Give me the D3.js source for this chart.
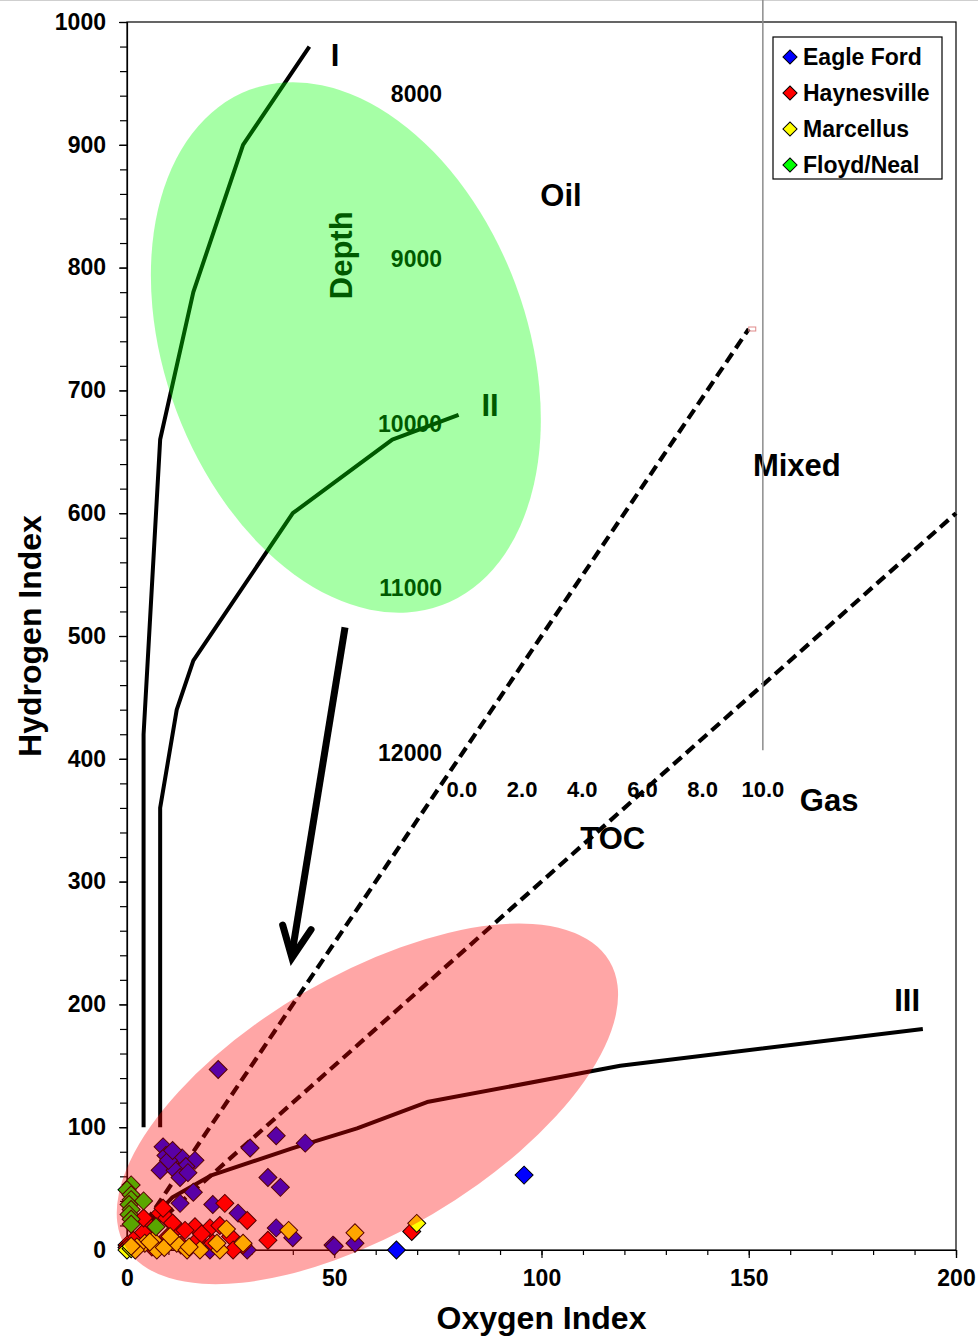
<!DOCTYPE html>
<html>
<head>
<meta charset="utf-8">
<script src="https://cdn.jsdelivr.net/npm/d3@7"></script>
<style>
  body { margin: 0; background: #fff; }
  svg text { font-family: "Liberation Sans", Arial, sans-serif; font-weight: bold; }
</style>
</head>
<body>
<div id="my_dataviz"></div>
<script>
// samples: [oxygen index, hydrogen index]
const eagleFord = [[22,147],[8.7,84],[9.4,77],[13.3,75],[16.4,73],[10.4,71],[14.2,68],[8,65],[11.6,65],
  [12.8,59],[10,73],[11,81],[14.7,63],[16,47],[12.8,38],[29.7,83],[36,93],[43,87],[34,59],[37,51],
  [20.7,37],[26.8,30],[36,18],[40,10],[49.7,4],[20,0],[29,0],[50,3],[55,5.5],[95.8,61],[65,0]];
const haynesville = [[23.6,38],[29,24],[8,30],[9.6,26],[12,18],[16.4,19],[20,18],[22.4,20],[14,16],
  [5.5,19],[3.9,14],[1.5,8],[0,4],[9.9,11],[17,8],[25,11],[28,4],[25.6,0],[20.7,5.5],[6,2.4],
  [8.7,34],[34,8],[11,22],[18,13],[4,26],[13,4],[0,2],[68.7,15]];
const marcellus = [[6.3,8],[7.2,0],[9,2],[12,5.5],[14.5,0],[17.6,0],[22.4,0],[24,17],[28,5.5],
  [4.3,5.5],[2.4,2.4],[10.4,11],[39,16],[21.7,5.5],[15,2.4],[5.5,6.5],[55,14],[69.9,21.7],
  [0,0],[1,1],[2,0],[1,3]];
const floydNeal = [[1,53],[0,49],[1,45],[1,41],[0.5,37],[1,33],[0.5,29],[1,25],[1,21],[4,40],[7,19]];

const seriesNames = ["Eagle Ford", "Haynesville", "Marcellus", "Floyd/Neal"];
const seriesData = [eagleFord, haynesville, marcellus, floydNeal];

// kerogen type curves
const typeI = [[4,100],[4,420],[8,660],[16,780],[28,900],[44,980]];
const typeII = [[8,100],[8,360],[12,440],[16,480],[40,600],[64,660],[80,680]];
const typeIII = [[4,18],[11,43],[20.5,61],[40,83],[55.5,99],[72.4,120.5],[119,150],[192,180]];
// oil / mixed / gas boundaries
const oilMixed = [[0,0],[150,750]];
const mixedGas = [[0,0],[200,600]];

const xTicks = d3.range(0, 201, 10);
const xLabels = [0, 50, 100, 150, 200];
const yTicks = d3.range(0, 1001, 20);
const yLabels = d3.range(0, 1001, 100);
const tocTicks = [0, 2, 4, 6, 8, 10];
const depthTicks = [8000, 9000, 10000, 11000, 12000];

const annotations = [
  {text: "I", oi: 50.2, hi: 964},
  {text: "II", oi: 87.6, hi: 679},
  {text: "III", oi: 188.2, hi: 195},
  {text: "Oil", oi: 104.7, hi: 850},
  {text: "Mixed", oi: 161.6, hi: 630},
  {text: "Gas", oi: 169.4, hi: 357.5},
  {text: "TOC", oi: 117.2, hi: 326.5}
];

const margin = {top: 22, right: 22, bottom: 86, left: 127};
const width = 978 - margin.left - margin.right;
const height = 1336 - margin.top - margin.bottom;

const colors = ["#0000ff", "#ff0000", "#ffff00", "#00ff00"];

const root = d3.select("#my_dataviz")
  .append("svg")
  .attr("width", width + margin.left + margin.right)
  .attr("height", height + margin.top + margin.bottom);

root.append("line")
  .attr("x1", 0).attr("x2", 978).attr("y1", 0.5).attr("y2", 0.5)
  .attr("stroke", "#cfcfcf");

const svg = root.append("g")
  .attr("transform", "translate(" + margin.left + "," + margin.top + ")");

const x = d3.scaleLinear().domain([0, 200]).range([0, width]);
const y = d3.scaleLinear().domain([0, 1000]).range([height, 0]);

// secondary scales (TOC across, depth down)
const toc = d3.scaleLinear().domain([0, 10]).range([80.8, 153.4]);
const depth = d3.scaleLinear().domain([8000, 12000]).range([935, 398]);

// frame
svg.append("rect")
  .attr("width", width).attr("height", height)
  .attr("fill", "none").attr("stroke", "#000").attr("stroke-width", 1.2);

// y axis
svg.append("g")
  .call(d3.axisLeft(y).tickValues(yTicks).tickSize(7).tickFormat(""))
  .call(g => g.select(".domain").remove());
svg.append("g")
  .call(d3.axisLeft(y).tickValues(yLabels).tickSize(8).tickPadding(13).tickFormat(d3.format("d")))
  .call(g => g.selectAll("text").attr("font-size", 23).attr("fill", "#000"));

// x axis
svg.append("g")
  .attr("transform", "translate(0," + height + ")")
  .call(d3.axisBottom(x).tickValues(xTicks).tickSize(5).tickFormat(""))
  .call(g => g.select(".domain").remove());
svg.append("g")
  .attr("transform", "translate(0," + height + ")")
  .call(d3.axisBottom(x).tickValues(xLabels).tickSize(8).tickPadding(12))
  .call(g => g.selectAll("text").attr("font-size", 23).attr("fill", "#000"));

svg.selectAll(".tick line").attr("stroke-width", 1.2);
svg.selectAll(".domain").attr("stroke-width", 1.2);

// axis titles
svg.append("text")
  .attr("x", width / 2).attr("y", height + 79)
  .attr("text-anchor", "middle").attr("font-size", 32)
  .text("Oxygen Index");
svg.append("text")
  .attr("transform", "translate(" + (41 - margin.left) + "," + (636 - margin.top) + ") rotate(-90)")
  .attr("text-anchor", "middle").attr("font-size", 32)
  .text("Hydrogen Index");

// depth labels
svg.selectAll(".depth")
  .data(depthTicks)
  .enter().append("text")
  .attr("x", x(76)).attr("y", d => y(depth(d)))
  .attr("text-anchor", "end").attr("font-size", 23)
  .text(d => d);
svg.append("text")
  .attr("transform", "translate(" + x(54.3) + "," + y(810) + ") rotate(-90)")
  .attr("text-anchor", "middle").attr("font-size", 31)
  .text("Depth");

// TOC labels
svg.selectAll(".toc")
  .data(tocTicks)
  .enter().append("text")
  .attr("x", d => x(toc(d))).attr("y", y(369))
  .attr("text-anchor", "middle").attr("font-size", 22)
  .text(d => d3.format(".1f")(d));

svg.selectAll(".note")
  .data(annotations)
  .enter().append("text")
  .attr("x", d => x(d.oi)).attr("y", d => y(d.hi))
  .attr("text-anchor", "middle").attr("font-size", 31)
  .text(d => d.text);

const line = d3.line().x(d => x(d[0])).y(d => y(d[1]));

[typeI, typeII, typeIII].forEach(c => {
  svg.append("path")
    .datum(c)
    .attr("fill", "none").attr("stroke", "#000")
    .attr("stroke-width", 4).attr("stroke-linejoin", "round")
    .attr("d", line);
});

[oilMixed, mixedGas].forEach(c => {
  svg.append("path")
    .datum(c)
    .attr("fill", "none").attr("stroke", "#000")
    .attr("stroke-width", 4.2).attr("stroke-dasharray", "11,6")
    .attr("d", line);
});

svg.append("rect")
  .attr("x", x(150)).attr("y", y(750) - 2).attr("width", 7).attr("height", 4)
  .attr("fill", "none").attr("stroke", "#e08a8a").attr("stroke-width", 1);

// maturation arrow
const arrowFrom = [52.6, 507], arrowTo = [39.8, 238];
const ax0 = x(arrowFrom[0]), ay0 = y(arrowFrom[1]);
const ax1 = x(arrowTo[0]), ay1 = y(arrowTo[1]);
const ang = Math.atan2(ay0 - ay1, ax0 - ax1);
const head = 34, spread = 25 * Math.PI / 180;
svg.append("line")
  .attr("x1", ax0).attr("y1", ay0).attr("x2", ax1).attr("y2", ay1 - 4)
  .attr("stroke", "#000").attr("stroke-width", 7);
svg.append("path")
  .attr("d", "M" + (ax1 + head * Math.cos(ang - spread)) + "," + (ay1 + head * Math.sin(ang - spread)) +
    "L" + ax1 + "," + ay1 +
    "L" + (ax1 + head * Math.cos(ang + spread)) + "," + (ay1 + head * Math.sin(ang + spread)))
  .attr("fill", "none").attr("stroke", "#000").attr("stroke-width", 7)
  .attr("stroke-linejoin", "miter").attr("stroke-linecap", "round");

// samples
const diamond = d3.symbol().type(d3.symbolSquare).size(162);
seriesData.forEach((s, i) => {
  svg.selectAll(".s" + i)
    .data(s)
    .enter().append("path")
    .attr("d", diamond)
    .attr("transform", d => "translate(" + x(d[0]) + "," + y(d[1]) + ") rotate(45)")
    .attr("fill", colors[i]).attr("stroke", "#000").attr("stroke-width", 1);
});

// oil window (green) and gas window (pink) overlays
const gx = x(52.8), gy = y(735);
svg.append("ellipse")
  .attr("cx", gx).attr("cy", gy).attr("rx", 275).attr("ry", 181)
  .attr("transform", "rotate(69.5," + gx + "," + gy + ")")
  .attr("fill", "#00ff00").attr("fill-opacity", 0.35);
const px = x(58), py = y(119);
svg.append("ellipse")
  .attr("cx", px).attr("cy", py).attr("rx", 281).attr("ry", 128)
  .attr("transform", "rotate(-30.5," + px + "," + py + ")")
  .attr("fill", "#ff0000").attr("fill-opacity", 0.35);

// grey TOC marker line
svg.append("line")
  .attr("x1", x(toc(10))).attr("x2", x(toc(10)))
  .attr("y1", y(407)).attr("y2", -margin.top)
  .attr("stroke", "#8c8c8c").attr("stroke-width", 1.5);

// legend
const legend = root.append("g").attr("transform", "translate(773,37)");
legend.append("rect")
  .attr("width", 169).attr("height", 142)
  .attr("fill", "#fff").attr("stroke", "#000").attr("stroke-width", 1.2);
const item = legend.selectAll(".item")
  .data(seriesNames)
  .enter().append("g")
  .attr("transform", (d, i) => "translate(0," + (20 + i * 36) + ")");
item.append("path")
  .attr("d", d3.symbol().type(d3.symbolSquare).size(100))
  .attr("transform", "translate(17,0) rotate(45)")
  .attr("fill", (d, i) => colors[i]).attr("stroke", "#000").attr("stroke-width", 1);
item.append("text")
  .attr("x", 30).attr("y", 8)
  .attr("font-size", 23)
  .text(d => d);
</script>
</body>
</html>
